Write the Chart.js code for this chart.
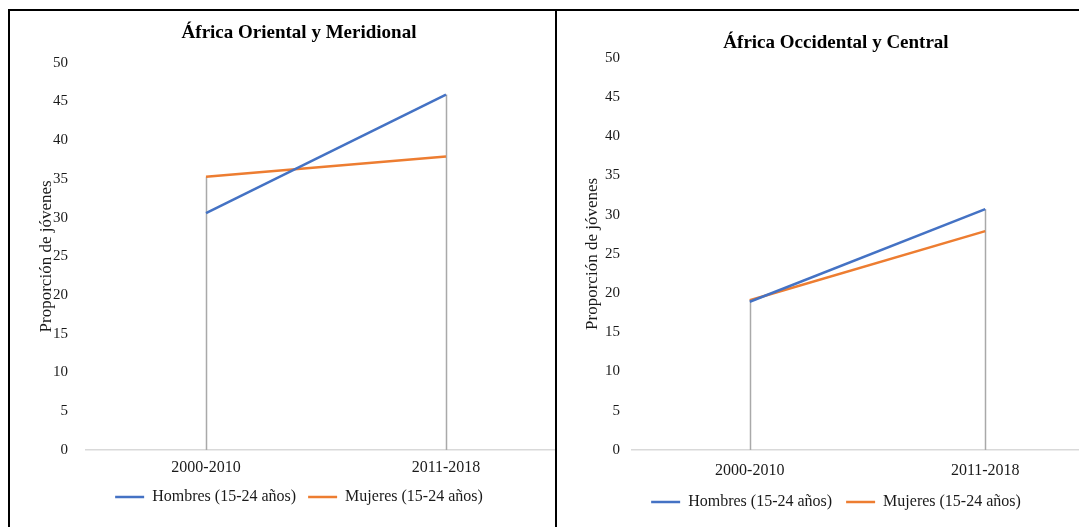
<!DOCTYPE html>
<html>
<head>
<meta charset="utf-8">
<script src="https://cdn.jsdelivr.net/npm/chart.js@4/dist/chart.umd.min.js"></script>
<style>
  body { margin: 0; background: #fff; width: 1079px; height: 527px; overflow: hidden; }
  .rule { position: absolute; background: #000; }
  .panel { position: absolute; overflow: hidden; }
</style>
</head>
<body>
<div class="rule" style="left:8px;top:9px;width:1071px;height:2px"></div>
<div class="rule" style="left:8px;top:9px;width:2px;height:518px"></div>
<div class="rule" style="left:555px;top:9px;width:2px;height:518px"></div>

<div class="panel" style="left:10px;top:12px;width:545px;height:515px">
  <canvas id="chartEast" width="578" height="503"></canvas>
</div>
<div class="panel" style="left:557px;top:12px;width:522px;height:515px">
  <canvas id="chartWest" width="558" height="508"></canvas>
</div>

<script>
// data
const periods = ['2000-2010', '2011-2018']
const seriesNames = ['Hombres (15-24 años)', 'Mujeres (15-24 años)']
const eastMen = [30.6, 45.9]
const eastWomen = [35.3, 37.9]
const westMen = [18.9, 30.7]
const westWomen = [19.1, 27.9]
const yMin = 0
const yMax = 50
const yStep = 5

const FONT = "'Liberation Serif', 'Times New Roman', serif"
const BLUE = '#4472c4'
const ORANGE = '#ed7d31'

// grey drop lines from the highest point down to the axis
const dropLines = {
    id: 'dropLines',
    beforeDatasetsDraw(chart) {
        const { ctx, scales: { x, y } } = chart
        ctx.save()
        ctx.strokeStyle = '#a9a9a9'
        ctx.lineWidth = 1.5
        chart.data.labels.forEach((lbl, i) => {
            const top = Math.max(...chart.data.datasets.map(d => d.data[i]))
            const px = Math.round(x.getPixelForValue(i)) + 0.5
            ctx.beginPath()
            ctx.moveTo(px, y.getPixelForValue(top))
            ctx.lineTo(px, y.getPixelForValue(0))
            ctx.stroke()
        })
        ctx.restore()
    }
}

function makeChart(id, title, men, women, g) {
    return new Chart(document.getElementById(id), {
        type: 'line',
        data: {
            labels: periods,
            datasets: [
                { label: seriesNames[0], data: men, borderColor: BLUE, backgroundColor: BLUE, borderWidth: 2.5 },
                { label: seriesNames[1], data: women, borderColor: ORANGE, backgroundColor: ORANGE, borderWidth: 2.5 }
            ]
        },
        options: {
            responsive: false,
            animation: false,
            elements: {
                line: { tension: 0, fill: false },
                point: { radius: 0, hoverRadius: 0 }
            },
            layout: { padding: { left: g.pad, right: g.pad, top: 0, bottom: 0 } },
            scales: {
                x: {
                    type: 'category',
                    offset: true,
                    grid: { display: false, drawTicks: false },
                    border: { display: true, color: '#d9d9d9', width: 1.5 },
                    ticks: { padding: g.xTickPad, color: '#1a1a1a', font: { family: FONT, size: 16 } },
                    afterFit: (s) => { s.height = g.xHeight }
                },
                y: {
                    min: yMin,
                    max: yMax,
                    grid: { display: false, drawTicks: false },
                    border: { display: false },
                    ticks: { stepSize: yStep, padding: g.yTickPad, color: '#1a1a1a', font: { family: FONT, size: 15 } },
                    title: {
                        display: true,
                        text: 'Proporción de jóvenes',
                        color: '#1a1a1a',
                        font: { family: FONT, size: 17 },
                        padding: { top: g.yTitlePad, bottom: 0 }
                    },
                    afterFit: (s) => { s.width = g.yWidth }
                }
            },
            plugins: {
                title: {
                    display: true,
                    text: title,
                    color: '#000',
                    font: { family: FONT, size: 19, weight: 'bold' },
                    padding: g.titlePad
                },
                legend: {
                    position: 'bottom',
                    labels: {
                        usePointStyle: true,
                        pointStyle: 'line',
                        pointStyleWidth: 29,
                        padding: g.legendPad,
                        color: '#1a1a1a',
                        font: { family: FONT, size: 16 }
                    }
                },
                tooltip: { enabled: false }
            }
        },
        plugins: [dropLines]
    })
}

makeChart('chartEast', 'África Oriental y Meridional', eastMen, eastWomen, {
    pad: 22, yWidth: 54, yTickPad: 18, yTitlePad: 4,
    titlePad: { top: 10, bottom: 18 },
    xTickPad: 8, xHeight: 27, legendPad: 12
})

makeChart('chartWest', 'África Occidental y Central', westMen, westWomen, {
    pad: 12, yWidth: 63, yTickPad: 12, yTitlePad: 13,
    titlePad: { top: 20, bottom: 3 },
    xTickPad: 11, xHeight: 30, legendPad: 14
})
</script>
</body>
</html>
